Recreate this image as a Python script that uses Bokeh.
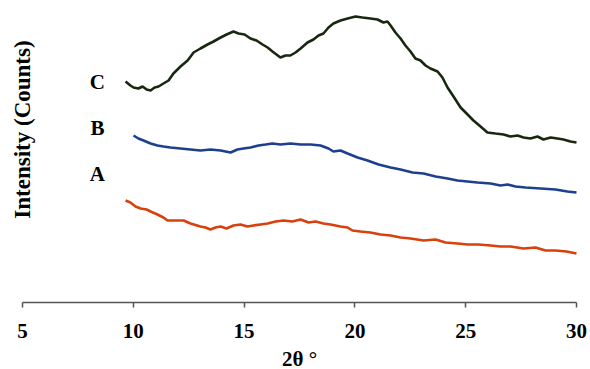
import math
from bokeh.plotting import figure
from bokeh.models import Range1d, FixedTicker, Label
from bokeh.embed import file_html
from bokeh.resources import INLINE

# ---- data (2theta in degrees, intensity in arbitrary offset units) ----
x_ticks = [5, 10, 15, 20, 25, 30]

c_x = [9.65, 9.87, 10.01, 10.23, 10.42, 10.60, 10.78, 10.96, 11.14, 11.36, 11.59, 11.81,
       12.13, 12.45, 12.72, 13.03, 13.35, 13.62, 13.94, 14.21, 14.52, 14.75, 15.02, 15.29,
       15.56, 15.83, 16.06, 16.28, 16.46, 16.64, 16.87, 17.09, 17.32, 17.55, 17.86, 18.13,
       18.36, 18.58, 18.81, 19.03, 19.35, 19.67, 20.03, 20.34, 20.70, 21.02, 21.29, 21.47,
       21.61, 21.83, 22.06, 22.28, 22.51, 22.73, 22.96, 23.19, 23.41, 23.73, 23.95, 24.18,
       24.45, 24.77, 25.04, 25.35, 25.67, 25.98, 26.34, 26.71, 27.02, 27.34, 27.61, 27.92,
       28.24, 28.51, 28.83, 29.14, 29.41, 29.73, 30.0]
c_y = [221, 217, 215, 214, 216, 213, 212, 215, 216, 219, 222, 229,
       236, 242, 250, 254, 258, 261, 265, 268, 271, 269, 268, 264,
       262, 258, 255, 251, 248, 245, 247, 247, 250, 254, 260, 263,
       267, 269, 275, 279, 282, 284, 286, 285, 284, 283, 280, 281,
       277, 270, 264, 257, 251, 244, 242, 237, 234, 231, 225, 215,
       206, 195, 189, 182, 176, 170, 169, 168, 166, 167, 165, 164,
       166, 163, 165, 164, 163, 161, 160]

b_x = [10.01, 10.23, 10.46, 10.78, 11.09, 11.36, 11.68, 12.13, 12.58, 13.03, 13.48, 13.94,
       14.39, 14.70, 14.97, 15.29, 15.65, 15.97, 16.28, 16.64, 17.09, 17.55, 18.00, 18.45,
       18.81, 19.03, 19.35, 19.67, 20.12, 20.57, 21.07, 21.61, 22.06, 22.60, 23.10, 23.64,
       24.18, 24.63, 25.08, 25.53, 26.12, 26.57, 26.89, 27.25, 27.70, 28.38, 29.05, 29.59,
       30.0]
b_y = [167, 164, 162, 159, 157, 156, 155, 154, 153, 152, 153, 152,
       150, 153, 154, 155, 157, 158, 159, 158, 159, 158, 158, 157,
       154, 151, 152, 149, 145, 142, 138, 135, 133, 130, 129, 126,
       124, 122, 121, 120, 119, 117, 118, 116, 115, 114, 113, 111,
       110]

a_x = [9.65, 9.87, 10.10, 10.33, 10.60, 10.78, 11.09, 11.36, 11.54, 11.90, 12.27, 12.58,
       13.03, 13.26, 13.48, 13.71, 13.94, 14.21, 14.52, 14.84, 15.15, 15.42, 15.74, 16.06,
       16.42, 16.78, 17.18, 17.55, 17.91, 18.22, 18.58, 18.90, 19.35, 19.67, 19.89, 20.25,
       20.70, 21.16, 21.61, 22.06, 22.51, 23.10, 23.64, 24.09, 24.63, 25.08, 25.58, 26.12,
       26.57, 27.02, 27.61, 28.15, 28.60, 29.05, 29.55, 30.0]
a_y = [102, 100, 96, 94, 93, 91, 88, 85, 82, 82, 82, 79,
       76, 75, 73, 75, 76, 74, 77, 78, 76, 77, 78, 79,
       81, 82, 81, 83, 80, 81, 79, 78, 76, 75, 72, 71,
       70, 68, 67, 65, 64, 62, 63, 60, 59, 58, 58, 57,
       56, 56, 54, 55, 52, 52, 51, 49]

series_labels = ["A", "B", "C"]
label_x = [8.38, 8.38, 8.38]
label_y = [129, 175, 221]

FONT = "Liberation Serif"

# frame covers the whole canvas; axis is pinned at y=0 with fixed_location
p = figure(width=590, height=369, output_backend="svg", toolbar_location=None,
           x_range=Range1d(4.007, 30.632), y_range=Range1d(-67, 302),
           y_axis_type=None, min_border_left=0, min_border_right=0,
           min_border_top=0, min_border_bottom=0)
p.outline_line_color = None
p.grid.visible = False
p.background_fill_color = "white"
p.border_fill_color = "white"

p.line(a_x, a_y, line_color="#d8400c", line_width=2.6)
p.line(b_x, b_y, line_color="#1c3f8e", line_width=2.6)
p.line(c_x, c_y, line_color="#17280f", line_width=2.6)

ax = p.xaxis[0]
ax.fixed_location = 0
ax.bounds = (x_ticks[0], x_ticks[-1])
ax.ticker = FixedTicker(ticks=x_ticks)
ax.minor_tick_line_color = None
ax.axis_line_color = "#555555"
ax.axis_line_width = 1.5
ax.major_tick_line_color = "#555555"
ax.major_tick_line_width = 1.5
ax.major_tick_in = 0
ax.major_tick_out = 5
ax.major_label_standoff = 16
ax.major_label_text_font = FONT
ax.major_label_text_font_style = "bold"
ax.major_label_text_font_size = "21px"
ax.major_label_text_color = "black"
ax.axis_label = "2θ °"
ax.axis_label_text_font = FONT
ax.axis_label_text_font_style = "bold"
ax.axis_label_text_font_size = "21px"
ax.axis_label_text_color = "black"
ax.axis_label_standoff = 6

for t, lx, ly in zip(series_labels, label_x, label_y):
    p.add_layout(Label(x=lx, y=ly, text=t, text_font=FONT, text_font_style="bold",
                       text_font_size="21px", text_align="center", text_baseline="middle",
                       text_color="black"))

p.add_layout(Label(x=4.99, y=173, text="Intensity (Counts)", angle=math.pi / 2,
                   text_font=FONT, text_font_style="bold", text_font_size="23px",
                   text_align="center", text_baseline="middle", text_color="black"))

open("out.html", "w").write(file_html(p, INLINE))
